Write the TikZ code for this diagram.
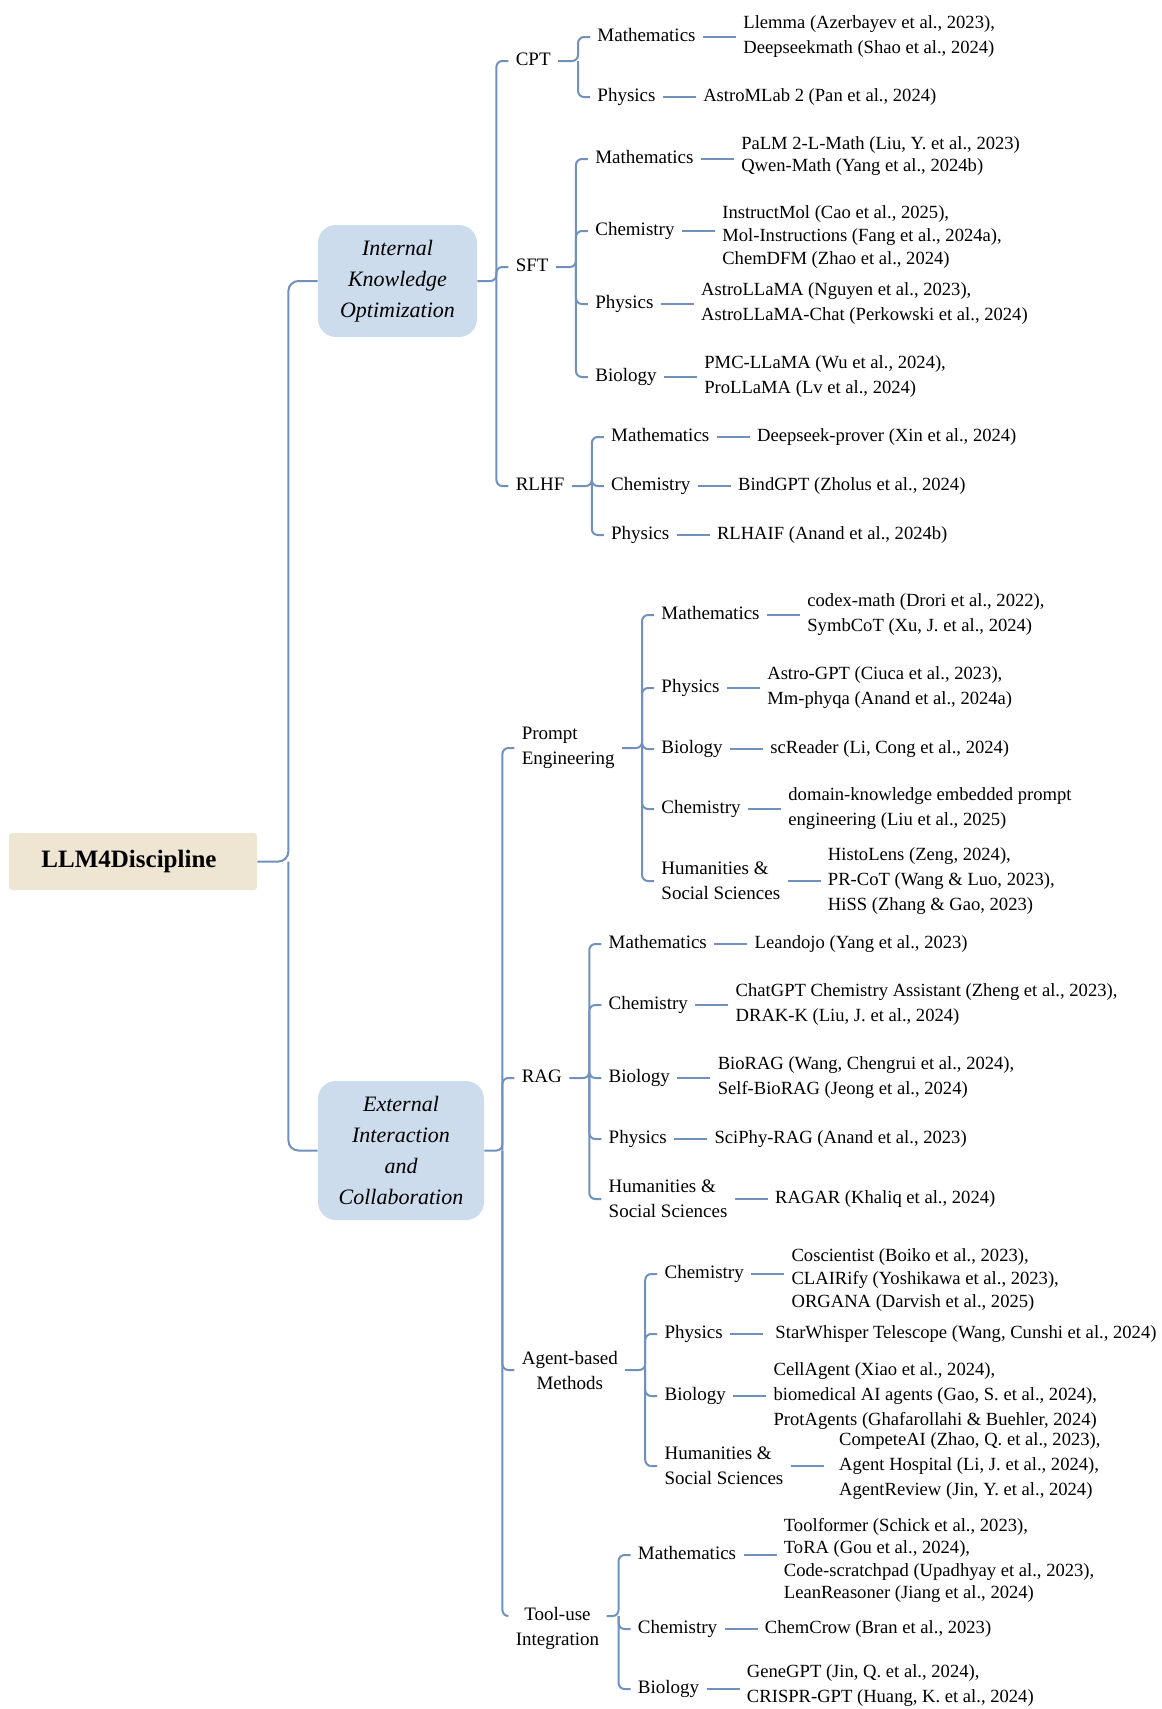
\documentclass[tikz,border=0pt]{standalone}
\usepackage{fontspec}
\setmainfont{Liberation Serif}
\usetikzlibrary{positioning}
\definecolor{linkblue}{HTML}{7091BD}
\definecolor{boxblue}{HTML}{CDDCEC}
\definecolor{rootbeige}{HTML}{EFE5D3}

\begin{document}
\begin{tikzpicture}[x=0.5pt, y=-0.5pt, node distance=16.5pt,
        link/.style={draw=linkblue, line width=1pt, rounded corners=3pt}]
        \tikzset{cat/.style={anchor=west, xshift=6pt, inner sep=3.5pt, font=\fontsize{9.5}{12.5}\selectfont},
                 one/.style={text height=6.5pt, text depth=2pt},
                 leaf/.style={inner sep=3.5pt, align=left, font=\fontsize{9.3}{12.5}\selectfont},
                 tight/.style={font=\fontsize{9.3}{11.3}\selectfont},
                 area/.style={rectangle, rounded corners=9pt, fill=boxblue, align=center, font=\fontsize{11}{15.5}\selectfont\itshape}};
        \useasboundingbox (0, 0) rectangle (1162, 1709);

        \node[rectangle, rounded corners=1.5pt, fill=rootbeige, minimum width=124pt, minimum height=28.5pt,
              font=\fontsize{12.5}{15}\selectfont\bfseries] (llm) at (133, 861.5) {\hspace*{-4pt}LLM4Discipline};
        \node[area, minimum width=79.5pt, minimum height=56pt] (iko) at (397.5, 281) {Internal\\Knowledge\\Optimization};
        \node[area, minimum width=83pt, minimum height=69.5pt] (eic) at (401, 1150.5) {External\\Interaction\\and\\Collaboration};
        \coordinate (llm-b) at ([xshift=15.5pt]llm.east);
        \draw[link, rounded corners=5pt] (llm.east) -- (llm-b) |- (iko.west);
        \draw[link, rounded corners=5pt] (llm-b) |- (eic.west);

        \coordinate (iko-b) at ([xshift=9.5pt]iko.east);
        \node[cat, one] (cpt) at (iko-b |- 0,61) {CPT};
        \node[cat, one] (sft) at (iko-b |- 0,267) {SFT};
        \node[cat, one] (rlhf) at (iko-b |- 0,486) {RLHF};
        \draw[link] (iko.east) -- (iko-b) |- (cpt.west);
        \draw[link] (iko-b) |- (sft.west);
        \draw[link] (iko-b) |- (rlhf.west);

        \coordinate (cpt-b) at ([xshift=10pt]cpt.east);
        \node[cat, one] (cpt-math) at (cpt-b |- 0,37) {Mathematics};
        \node[cat, one] (cpt-phys) at (cpt-b |- 0,97) {Physics};
        \node[leaf, right=of cpt-math] (cpt-math-l) {Llemma (Azerbayev et al., 2023),\\Deepseekmath (Shao et al., 2024)};
        \node[leaf, right=of cpt-phys] (cpt-phys-l) {AstroMLab 2 (Pan et al., 2024)};
        \draw[link] (cpt.east) -- (cpt-b) |- (cpt-math.west);
        \draw[link] (cpt-b) |- (cpt-phys.west);
        \draw[link] (cpt-math) -- (cpt-math-l);
        \draw[link] (cpt-phys) -- (cpt-phys-l);

        \coordinate (sft-b) at ([xshift=10pt]sft.east);
        \node[cat, one] (sft-math) at (sft-b |- 0,159) {Mathematics};
        \node[cat, one] (sft-chem) at (sft-b |- 0,231) {Chemistry};
        \node[cat, one] (sft-phys) at (sft-b |- 0,304) {Physics};
        \node[cat, one] (sft-bio) at (sft-b |- 0,377) {Biology};
        \node[leaf, tight, right=of sft-math, yshift=1.5pt] (sft-math-l) {PaLM 2-L-Math (Liu, Y. et al., 2023)\\Qwen-Math (Yang et al., 2024b)};
        \node[leaf, tight, right=of sft-chem, yshift=-3pt] (sft-chem-l) {InstructMol (Cao et al., 2025),\\Mol-Instructions (Fang et al., 2024a),\\ChemDFM (Zhao et al., 2024)};
        \node[leaf, right=of sft-phys] (sft-phys-l) {AstroLLaMA (Nguyen et al., 2023),\\AstroLLaMA-Chat (Perkowski et al., 2024)};
        \node[leaf, right=of sft-bio] (sft-bio-l) {PMC-LLaMA (Wu et al., 2024),\\ProLLaMA (Lv et al., 2024)};
        \draw[link] (sft.east) -- (sft-b) |- (sft-math.west);
        \draw[link] (sft-b) |- (sft-chem.west);
        \draw[link] (sft-b) |- (sft-phys.west);
        \draw[link] (sft-b) |- (sft-bio.west);
        \draw[link] (sft-math) -- (sft-math.east -| sft-math-l.west);
        \draw[link] (sft-chem) -- (sft-chem.east -| sft-chem-l.west);
        \draw[link] (sft-phys) -- (sft-phys-l);
        \draw[link] (sft-bio) -- (sft-bio-l);

        \coordinate (rlhf-b) at ([xshift=10pt]rlhf.east);
        \node[cat, one] (rlhf-math) at (rlhf-b |- 0,437) {Mathematics};
        \node[cat, one] (rlhf-chem) at (rlhf-b |- 0,486) {Chemistry};
        \node[cat, one] (rlhf-phys) at (rlhf-b |- 0,535) {Physics};
        \node[leaf, right=of rlhf-math] (rlhf-math-l) {Deepseek-prover (Xin et al., 2024)};
        \node[leaf, right=of rlhf-chem] (rlhf-chem-l) {BindGPT (Zholus et al., 2024)};
        \node[leaf, right=of rlhf-phys] (rlhf-phys-l) {RLHAIF (Anand et al., 2024b)};
        \draw[link] (rlhf.east) -- (rlhf-b) |- (rlhf-math.west);
        \draw[link] (rlhf-b) |- (rlhf-chem.west);
        \draw[link] (rlhf-b) |- (rlhf-phys.west);
        \draw[link] (rlhf-math) -- (rlhf-math-l);
        \draw[link] (rlhf-chem) -- (rlhf-chem-l);
        \draw[link] (rlhf-phys) -- (rlhf-phys-l);

        \coordinate (eic-b) at ([xshift=9pt]eic.east);
        \node[cat, align=left] (pe) at (eic-b |- 0,748) {Prompt\\Engineering};
        \node[cat, one] (rag) at (eic-b |- 0,1078) {RAG};
        \node[cat, align=center] (agent) at (eic-b |- 0,1370) {Agent-based\\Methods};
        \node[cat, align=center, xshift=-3pt] (tool) at (eic-b |- 0,1628) {Tool-use\\Integration};
        \draw[link] (eic.east) -- (eic-b) |- (pe.west);
        \draw[link] (eic-b) |- (rag.west);
        \draw[link] (eic-b) |- (agent.west);
        \draw[link] (eic-b) |- ([yshift=6pt]tool.west);

        \coordinate (pe-b) at ([xshift=10pt]pe.east);
        \node[cat, one] (pe-math) at (pe-b |- 0,615) {Mathematics};
        \node[cat, one] (pe-phys) at (pe-b |- 0,688) {Physics};
        \node[cat, one] (pe-bio) at (pe-b |- 0,749) {Biology};
        \node[cat, one] (pe-chem) at (pe-b |- 0,809) {Chemistry};
        \node[cat, align=left] (pe-hum) at (pe-b |- 0,881) {Humanities \&\\Social Sciences};
        \node[leaf, right=of pe-math] (pe-math-l) {codex-math (Drori et al., 2022),\\SymbCoT (Xu, J. et al., 2024)};
        \node[leaf, right=of pe-phys] (pe-phys-l) {Astro-GPT (Ciuca et al., 2023),\\Mm-phyqa (Anand et al., 2024a)};
        \node[leaf, right=of pe-bio] (pe-bio-l) {scReader (Li, Cong et al., 2024)};
        \node[leaf, right=of pe-chem] (pe-chem-l) {domain-knowledge embedded prompt\\engineering (Liu et al., 2025)};
        \node[leaf, right=of pe-hum] (pe-hum-l) {HistoLens (Zeng, 2024),\\PR-CoT (Wang \& Luo, 2023),\\HiSS (Zhang \& Gao, 2023)};
        \draw[link] (pe.east) -- (pe-b) |- (pe-math.west);
        \draw[link] (pe-b) |- (pe-phys.west);
        \draw[link] (pe-b) |- (pe-bio.west);
        \draw[link] (pe-b) |- (pe-chem.west);
        \draw[link] (pe-b) |- (pe-hum.west);
        \draw[link] (pe-math) -- (pe-math-l);
        \draw[link] (pe-phys) -- (pe-phys-l);
        \draw[link] (pe-bio) -- (pe-bio-l);
        \draw[link] (pe-chem) -- (pe-chem-l);
        \draw[link] (pe-hum) -- (pe-hum-l);

        \coordinate (rag-b) at ([xshift=10pt]rag.east);
        \node[cat, one] (rag-math) at (rag-b |- 0,944) {Mathematics};
        \node[cat, one] (rag-chem) at (rag-b |- 0,1005) {Chemistry};
        \node[cat, one] (rag-bio) at (rag-b |- 0,1078) {Biology};
        \node[cat, one] (rag-phys) at (rag-b |- 0,1139) {Physics};
        \node[cat, align=left] (rag-hum) at (rag-b |- 0,1199) {Humanities \&\\Social Sciences};
        \node[leaf, right=of rag-math] (rag-math-l) {Leandojo (Yang et al., 2023)};
        \node[leaf, right=of rag-chem] (rag-chem-l) {ChatGPT Chemistry Assistant (Zheng et al., 2023),\\DRAK-K (Liu, J. et al., 2024)};
        \node[leaf, right=of rag-bio] (rag-bio-l) {BioRAG (Wang, Chengrui et al., 2024),\\Self-BioRAG (Jeong et al., 2024)};
        \node[leaf, right=of rag-phys] (rag-phys-l) {SciPhy-RAG (Anand et al., 2023)};
        \node[leaf, right=of rag-hum] (rag-hum-l) {RAGAR (Khaliq et al., 2024)};
        \draw[link] (rag.east) -- (rag-b) |- (rag-math.west);
        \draw[link] (rag-b) |- (rag-chem.west);
        \draw[link] (rag-b) |- (rag-bio.west);
        \draw[link] (rag-b) |- (rag-phys.west);
        \draw[link] (rag-b) |- (rag-hum.west);
        \draw[link] (rag-math) -- (rag-math-l);
        \draw[link] (rag-chem) -- (rag-chem-l);
        \draw[link] (rag-bio) -- (rag-bio-l);
        \draw[link] (rag-phys) -- (rag-phys-l);
        \draw[link] (rag-hum) -- (rag-hum-l);

        \coordinate (agent-b) at ([xshift=10pt]agent.east);
        \node[cat, one] (agent-chem) at (agent-b |- 0,1274) {Chemistry};
        \node[cat, one] (agent-phys) at (agent-b |- 0,1334) {Physics};
        \node[cat, one] (agent-bio) at (agent-b |- 0,1396) {Biology};
        \node[cat, align=left] (agent-hum) at (agent-b |- 0,1466) {Humanities \&\\Social Sciences};
        \node[leaf, tight, right=of agent-chem, yshift=-3pt] (agent-chem-l) {Coscientist (Boiko et al., 2023),\\CLAIRify (Yoshikawa et al., 2023),\\ORGANA (Darvish et al., 2025)};
        \node[leaf, right=of agent-phys, xshift=2.5pt] (agent-phys-l) {StarWhisper Telescope (Wang, Cunshi et al., 2024)};
        \node[leaf, right=of agent-bio] (agent-bio-l) {CellAgent (Xiao et al., 2024),\\biomedical AI agents (Gao, S. et al., 2024),\\ProtAgents (Ghafarollahi \& Buehler, 2024)};
        \node[leaf, right=of agent-hum, xshift=4pt] (agent-hum-l) {CompeteAI (Zhao, Q. et al., 2023),\\Agent Hospital (Li, J. et al., 2024),\\AgentReview (Jin, Y. et al., 2024)};
        \draw[link] (agent.east) -- (agent-b) |- (agent-chem.west);
        \draw[link] (agent-b) |- (agent-phys.west);
        \draw[link] (agent-b) |- (agent-bio.west);
        \draw[link] (agent-b) |- (agent-hum.west);
        \draw[link] (agent-chem) -- (agent-chem.east -| agent-chem-l.west);
        \draw[link] (agent-phys) -- ([xshift=-2.5pt]agent-phys-l.west);
        \draw[link] (agent-bio) -- (agent-bio-l);
        \draw[link] (agent-hum) -- ([xshift=-4pt]agent-hum-l.west);

        \coordinate (tool-b) at ([xshift=6pt, yshift=6pt]tool.east);
        \node[cat, one] (tool-math) at (tool-b |- 0,1555) {Mathematics};
        \node[cat, one] (tool-chem) at (tool-b |- 0,1629) {Chemistry};
        \node[cat, one] (tool-bio) at (tool-b |- 0,1689) {Biology};
        \node[leaf, tight, right=of tool-math, yshift=-2.7pt] (tool-math-l) {Toolformer (Schick et al., 2023),\\ToRA (Gou et al., 2024),\\Code-scratchpad (Upadhyay et al., 2023),\\LeanReasoner (Jiang et al., 2024)};
        \node[leaf, right=of tool-chem] (tool-chem-l) {ChemCrow (Bran et al., 2023)};
        \node[leaf, right=of tool-bio, yshift=1.5pt] (tool-bio-l) {GeneGPT (Jin, Q. et al., 2024),\\CRISPR-GPT (Huang, K. et al., 2024)};
        \draw[link] ([yshift=6pt]tool.east) -- (tool-b) |- (tool-math.west);
        \draw[link] (tool-b) |- (tool-chem.west);
        \draw[link] (tool-b) |- (tool-bio.west);
        \draw[link] (tool-math) -- (tool-math.east -| tool-math-l.west);
        \draw[link] (tool-chem) -- (tool-chem-l);
        \draw[link] (tool-bio) -- (tool-bio.east -| tool-bio-l.west);
\end{tikzpicture}
\end{document}
